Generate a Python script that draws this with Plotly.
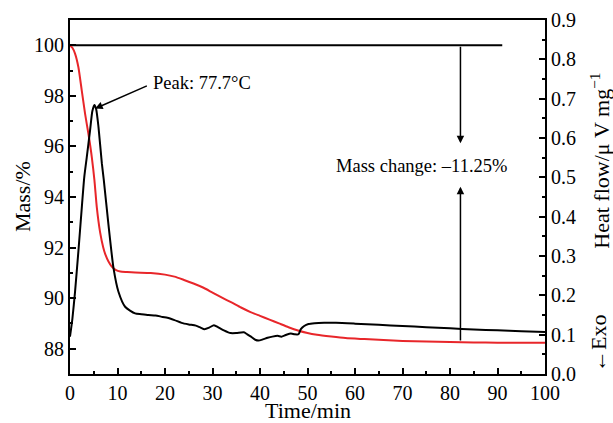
import plotly.graph_objects as go

# ---- data ----
mass_time = [0, 0.5, 1.06, 1.76, 2.47, 3.17, 3.87, 4.58, 5.14, 5.64, 6.34, 7.0, 7.4, 8.1, 8.8,
             9.6, 10.6, 12.0, 13.7, 17, 20, 22, 24, 26, 28, 30, 32, 34, 36, 38, 40, 42, 44,
             46, 48, 50, 52, 55, 58, 62, 66, 70, 75, 80, 85, 90, 95, 100]
mass_pct = [100, 99.9, 99.67, 99.14, 98.22, 97.3, 96.51, 95.59, 94.67, 93.6, 92.6, 92.0, 91.75,
            91.45, 91.25, 91.12, 91.05, 91.03, 91.01, 90.99, 90.93, 90.85, 90.72, 90.58, 90.42,
            90.22, 90.02, 89.83, 89.63, 89.45, 89.3, 89.15, 89.0, 88.85, 88.72, 88.62, 88.55,
            88.48, 88.42, 88.38, 88.34, 88.31, 88.29, 88.27, 88.25, 88.24, 88.24, 88.24]

heat_time = [0, 0.5, 1.06, 1.76, 2.47, 3.0, 3.52, 4.23, 4.7, 5.14, 5.5, 5.99, 6.7, 7.1, 8.1,
             9.16, 10.2, 11.6, 13.7, 15, 16.5, 18, 19.5, 20.5, 22, 23.5, 25, 26.5, 27.5, 28.3,
             29.3, 30.3, 31.3, 32.4, 33.8, 35, 36.6, 37.3, 38.1, 39.0, 39.7, 40.6, 41.6, 42.6,
             43.7, 44.5, 45.4, 46.5, 47.3, 48.1, 48.6, 49.3, 50.2, 51.5, 53.5, 56, 60, 65, 70,
             75, 80, 85, 90, 95, 100]
heat_flow = [0.095, 0.14, 0.209, 0.311, 0.421, 0.50, 0.55, 0.62, 0.668, 0.684, 0.674, 0.629,
             0.536, 0.495, 0.379, 0.269, 0.209, 0.171, 0.154, 0.152, 0.150, 0.149, 0.145, 0.143,
             0.137, 0.130, 0.126, 0.123, 0.118, 0.114, 0.118, 0.124, 0.118, 0.111, 0.104, 0.104,
             0.106, 0.101, 0.095, 0.087, 0.085, 0.088, 0.092, 0.095, 0.097, 0.095, 0.099, 0.103,
             0.101, 0.101, 0.114, 0.122, 0.127, 0.129, 0.130, 0.130, 0.128, 0.125, 0.122, 0.119,
             0.116, 0.113, 0.111, 0.109, 0.107]

baseline_time = [0, 91]
baseline_mass = [100, 100]

x_ticks = list(range(0, 101, 10))
mass_ticks = [88, 90, 92, 94, 96, 98, 100]
heat_ticks = [0.0, 0.1, 0.2, 0.3, 0.4, 0.5, 0.6, 0.7, 0.8, 0.9]

FONT = "Liberation Serif"
TICK = dict(family=FONT, size=20, color="black")
TITLE = dict(family=FONT, size=22, color="black")
NOTE = dict(family=FONT, size=18.5, color="black")

fig = go.Figure()
fig.add_trace(go.Scatter(x=baseline_time, y=baseline_mass, mode="lines",
                         line=dict(color="black", width=2), yaxis="y", showlegend=False))
fig.add_trace(go.Scatter(x=mass_time, y=mass_pct, mode="lines",
                         line=dict(color="#e8262a", width=2, shape="spline", smoothing=0.6),
                         yaxis="y", showlegend=False))
fig.add_trace(go.Scatter(x=heat_time, y=heat_flow, mode="lines",
                         line=dict(color="black", width=2, shape="spline", smoothing=0.6),
                         yaxis="y2", showlegend=False))

axis_common = dict(showline=True, linecolor="black", linewidth=2, ticks="inside", color="black",
                   tickcolor="black", tickwidth=1.5, ticklen=6, showgrid=False, zeroline=False,
                   automargin=False, tickfont=TICK)
minor_common = dict(ticks="inside", ticklen=3, tickcolor="black", tickwidth=1.5)

fig.update_layout(
    width=613, height=423,
    margin=dict(l=70, r=68, t=20, b=49),
    paper_bgcolor="white", plot_bgcolor="white",
    font=dict(family=FONT, color="black"),
    hovermode=False,
    xaxis=dict(range=[0, 100], tickvals=x_ticks, mirror=True,
               minor=dict(dtick=5, **minor_common), **axis_common),
    yaxis=dict(range=[87, 101], tickvals=mass_ticks,
               minor=dict(dtick=1, **minor_common), **axis_common),
    yaxis2=dict(range=[0, 0.9], tickvals=heat_ticks, tickformat=".1f", overlaying="y",
                side="right", minor=dict(dtick=0.05, **minor_common), **axis_common),
)

# axis titles
fig.add_annotation(text="Time/min", xref="paper", yref="paper", x=0.5, y=-0.103,
                   xanchor="center", yanchor="middle", showarrow=False, font=TITLE)
fig.add_annotation(text="Mass/%", xref="paper", yref="paper", x=-0.101, y=0.5,
                   xanchor="center", yanchor="middle", textangle=-90, showarrow=False, font=TITLE)
fig.add_annotation(text="Heat flow/μ V mg<sup>−1</sup>", xref="paper", yref="paper",
                   x=1.114, y=0.603, xanchor="center", yanchor="middle", textangle=-90,
                   showarrow=False, font=TITLE)
fig.add_annotation(text="←Exo", xref="paper", yref="paper",
                   x=1.114, y=0.085, xanchor="center", yanchor="middle", textangle=-90,
                   showarrow=False, font=TITLE)

# peak annotation
fig.add_annotation(x=5.3, y=97.5, ax=16.5, ay=98.42, xref="x", yref="y", axref="x", ayref="y",
                   showarrow=True, arrowhead=2, arrowsize=1, arrowwidth=1.5, arrowcolor="black",
                   text="")
fig.add_annotation(x=17.0, y=98.49, xref="x", yref="y", text="Peak: 77.7°C", showarrow=False,
                   xanchor="left", yanchor="middle", font=NOTE)

# mass change arrows
fig.add_annotation(x=82.2, y=96.13, ax=82.2, ay=100, xref="x", yref="y", axref="x", ayref="y",
                   showarrow=True, arrowhead=2, arrowsize=1, arrowwidth=1.5, arrowcolor="black",
                   text="")
fig.add_annotation(x=82.2, y=94.41, ax=82.2, ay=88.27, xref="x", yref="y", axref="x", ayref="y",
                   showarrow=True, arrowhead=2, arrowsize=1, arrowwidth=1.5, arrowcolor="black",
                   text="")
fig.add_annotation(x=74.0, y=95.24, xref="x", yref="y", text="Mass change: –11.25%",
                   xanchor="center", yanchor="middle", showarrow=False, font=NOTE)

# remove the default page margin so the figure sits at the window's top-left corner
fig.write_html("out.html", config={"displayModeBar": False},
               post_script="document.body.style.margin='0';document.body.style.overflow='hidden';")
